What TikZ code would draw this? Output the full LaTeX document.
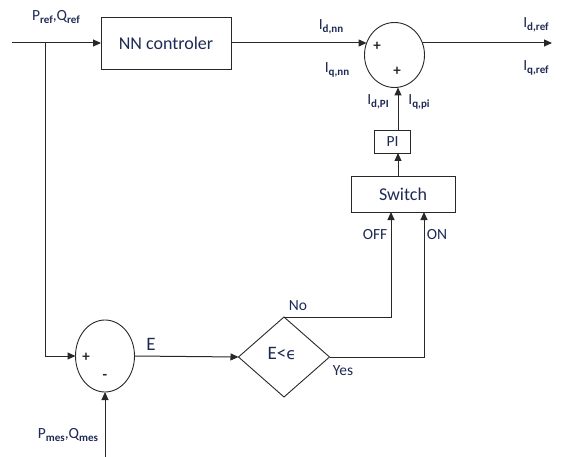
\documentclass[tikz,border=0pt]{standalone}
\usepackage{fontspec}
\setmainfont{Carlito}
\newfontfamily\symfont{DejaVu Sans}
\usetikzlibrary{shapes.geometric,arrows.meta}
\definecolor{lbl}{RGB}{30,42,85}
\definecolor{ln}{RGB}{40,40,40}
\newcommand\sbs[1]{\raisebox{-0.45ex}{\fontsize{11}{11}\selectfont\bfseries #1}}
\begin{document}
\begin{tikzpicture}[x=1pt,y=-1pt,
  every node/.style={inner sep=0pt, outer sep=0pt},
  box/.style={draw=ln, line width=0.9pt, rectangle, font=\fontsize{18}{18}\selectfont, text=lbl},
  sumnode/.style={draw=ln, line width=0.9pt, ellipse},
  decide/.style={draw=ln, line width=0.9pt, diamond},
  lab/.style={font=\fontsize{15.5}{15.5}\selectfont, text=lbl},
  sign/.style={font=\fontsize{15}{15}\selectfont\bfseries, text=ln},
  biglab/.style={font=\fontsize{19}{19}\selectfont, text=lbl},
  conn/.style={draw=ln, line width=1pt},
  arr/.style={conn, -{Triangle[length=8pt,width=7pt]}}]
\useasboundingbox (0,0) rectangle (564,457);
% blocks
\node[box, minimum width=130, minimum height=52] (nn) at (166,43) {NN controler};
\node[sumnode, minimum width=60, minimum height=65] (s1) at (394.5,55) {};
\node[box, minimum width=36, minimum height=23, font=\fontsize{15.5}{15.5}\selectfont] (pi) at (392.5,141.5) {PI};
\node[box, minimum width=104, minimum height=36] (sw) at (403,194) {Switch};
\node[decide, minimum width=91, minimum height=80] (dia) at (284,357) {};
\node[biglab] (diat) at (282,354) {E<{\symfont\fontsize{16}{16}\selectfont ϵ}};
\node[sumnode, minimum width=59, minimum height=72] (s2) at (105,356) {};
% coordinates
\coordinate (in) at (12,43);
\coordinate (br) at (45,43);
\coordinate (out) at (552,43);
\coordinate (pv) at (398,0);
\coordinate (offx) at (391,0);
\coordinate (onx) at (424,0);
\coordinate (pm) at (105,457);
% connectors
\draw[arr] (in) -- (nn.west);
\draw[arr] (br) |- (s2.west);
\draw[arr] (nn.east) -- (nn.east -| s1.157);
\draw[arr] (s1.23 |- nn.east) -- (out);
\draw[arr] (pi.north -| pv) -- (s1.south -| pv);
\draw[arr] (sw.north -| pv) -- (pi.south -| pv);
\draw[arr] (dia.north) -| (sw.south -| offx);
\draw[arr] (dia.east) -| (sw.south -| onx);
\draw[arr] (s2.east) -- (dia.west);
\draw[arr] (pm) -- (s2.south);
% labels
\node[lab] (lpref) at (56,17) {P\sbs{ref},Q\sbs{ref}};
\node[lab] (lidnn) at (331,27) {I\sbs{d,nn}};
\node[lab] (liqnn) at (337,70) {I\sbs{q,nn}};
\node[lab] (lidref) at (536,25) {I\sbs{d,ref}};
\node[lab] (liqref) at (536,68) {I\sbs{q,ref}};
\node[sign] (lp1) at (377,46) {+};
\node[sign] (lp2) at (397,71) {+};
\node[lab] (lidpi) at (378,102) {I\sbs{d,PI}};
\node[lab] (liqpi) at (419,102) {I\sbs{q,pi}};
\node[lab] (loff) at (375,235) {OFF};
\node[lab] (lon) at (437,235) {ON};
\node[lab] (lno) at (298,306) {No};
\node[lab] (lyes) at (343,371) {Yes};
\node[biglab] (le) at (151,344) {E};
\node[sign] (lp3) at (86,357) {+};
\node[sign] (lm) at (105,377) {-};
\node[lab] (lpmes) at (68,435) {P\sbs{mes},Q\sbs{mes}};
\end{tikzpicture}
\end{document}
